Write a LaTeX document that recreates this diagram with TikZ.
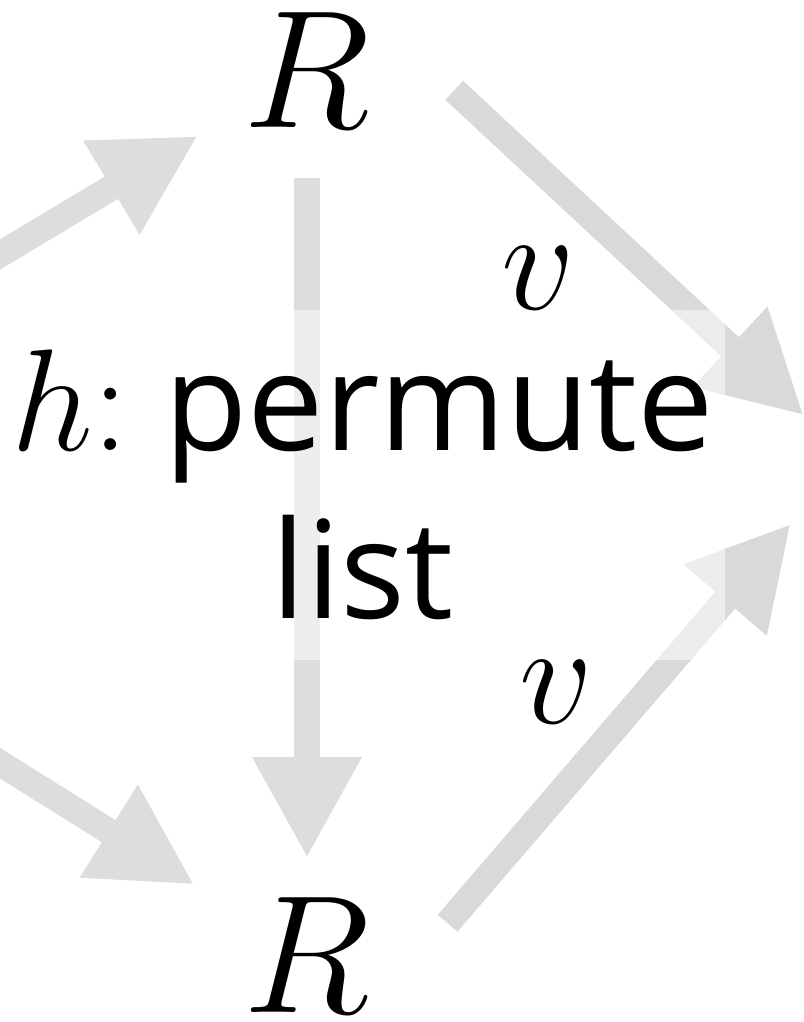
\RequirePackage{fix-cm}
\documentclass[tikz,border=0pt]{standalone}
\usepackage{fontspec}
\setsansfont{Open Sans}
\usepackage{tikz}
\usetikzlibrary{arrows.meta, calc}
\definecolor{arrgray}{HTML}{DCDDDF}
\definecolor{arrgrayr}{HTML}{D9D9D9}

\begin{document}
\begin{tikzpicture}[
  x=0.5pt, y=-0.5pt,
  obj/.style={inner sep=0pt, font=\fontsize{84}{100}\selectfont},
  lbl/.style={inner sep=0pt, font=\fontsize{72.5}{84}\selectfont},
  veil/.style={fill=white, fill opacity=0.5, text opacity=1, inner sep=0pt,
               minimum width=362.5pt, minimum height=175pt, align=center,
               font=\sffamily\fontsize{68}{84}\selectfont},
  arrow/.style={-{Triangle[length=50.5pt, width=51pt]}, line width=13pt}
]
\useasboundingbox (0,0) rectangle (803,1022);
\clip (0,0) rectangle (803,1022);
% objects
\node[obj] (Rtop) at (307,70.5) {$R$};
\node[obj] (Rbot) at (307,955)  {$R$};
% free ends (outside the crop)
\coordinate (inA)  at (-60,290.4);
\coordinate (inB)  at (-60,725.7);
\coordinate (outA) at (804,415.5);
\coordinate (outB) at (791,523.5);

\draw[arrow, arrgray] (inA) -- (Rtop) [shorten >=26.4pt];
\draw[arrow, arrgray] (inB) -- (Rbot) [shorten >=28.8pt];
\draw[arrow, arrgray, shorten <=25pt, shorten >=19.5pt] (Rtop) -- (Rbot);
\draw[arrow, arrgrayr, shorten <=57pt] (Rtop.north east) -- (outA);
\draw[arrow, arrgrayr, shorten <=59pt] (Rbot.south east) -- (outB);
% label over the vertical arrow
\node[veil] (perm) at (362.5,485)
  {{\fontsize{72.5}{84}\selectfont$h{:}$} permute\\list};
\node[lbl] (vA) at (538,278) {$v$};
\node[lbl] (vB) at (556,692) {$v$};
\end{tikzpicture}
\end{document}
